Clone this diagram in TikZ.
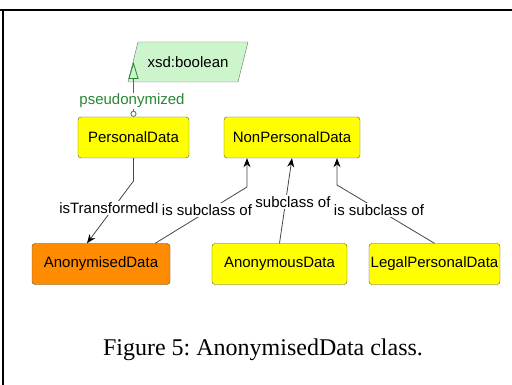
\documentclass[tikz,border=0pt]{standalone}
\usepackage{fontspec}
\setmainfont{Liberation Serif}
\setsansfont{Liberation Sans}
\usetikzlibrary{arrows.meta}
\definecolor{clsyellow}{RGB}{255,255,0}
\definecolor{clsorange}{RGB}{255,140,0}
\definecolor{clsborder}{RGB}{85,85,85}
\definecolor{dtgreen}{RGB}{204,245,204}
\definecolor{propgreen}{RGB}{40,135,50}
\definecolor{edgegray}{RGB}{70,70,70}
\begin{document}
\begin{tikzpicture}[x=1pt,y=-1pt,
    cls/.style={draw=clsborder, fill=clsyellow, rounded corners=3pt, minimum height=41pt,
      inner xsep=1pt, font=\sffamily\fontsize{15}{17}\selectfont},
    dtype/.style={minimum width=110pt, minimum height=40pt, inner sep=1pt,
      font=\sffamily\fontsize{15}{17}\selectfont},
    lbl/.style={fill=white, inner sep=1pt, font=\sffamily\fontsize{15}{17}\selectfont},
    rel/.style={draw=edgegray, line width=0.8pt, -{Stealth[length=9pt,width=7pt,black]}},
    dprop/.style={draw=propgreen, line width=0.8pt,
      {Circle[open,length=6pt,width=6pt]}-{Triangle[open,length=17pt,width=10pt]}}]
    \useasboundingbox (0,0) rectangle (512,385);
    \draw[line width=2pt] (0,10.5) -- (512,10.5);
    \draw[line width=2pt] (3.3,10.5) -- (3.3,385);
    \draw[draw=clsborder!80, fill=dtgreen] (128,82) -- (138,42) -- (248,42) -- (238,82) -- cycle;
    \node[dtype] (xsd) at (188,62) {xsd:boolean};
    \node[cls, minimum width=111pt] (pd) at (133.5,137.5) {PersonalData};
    \node[cls, minimum width=136pt] (npd) at (292,137.5) {NonPersonalData};
    \node[cls, fill=clsorange, minimum width=138pt] (and) at (101,264) {AnonymisedData};
    \node[cls, minimum width=135pt] (aus) at (279.5,264) {AnonymousData};
    \node[cls, minimum width=131pt] (lpd) at (434.5,264) {LegalPersonalData};
    \coordinate (b1) at (133.5,181);
    \coordinate (b2) at (247,187);
    \coordinate (b4) at (337,185);
    \draw[dprop] (pd.north) -- (pd.north |- xsd.west);
    \draw[rel] (pd.south) -- (b1) -- ([xshift=-14pt]and.north);
    \draw[rel] ([xshift=-15pt]and.north east) -- (b2) -- (b2 |- npd.south);
    \draw[rel] (aus.north) -- (npd.south);
    \draw[rel] (lpd.north) -- (b4) -- (b4 |- npd.south);
    \node[lbl, text=propgreen] (l0) at (132,101) {pseudonymized};
    \node[lbl] (l1) at (109,208) {isTransformedI};
    \node[lbl] (l3) at (293,202) {subclass of};
    \node[lbl] (l2) at (207,210) {is subclass of};
    \node[lbl] (l4) at (379,210) {is subclass of};
    \node[font=\fontsize{24}{28}\selectfont\frenchspacing] (cap) at (263,350) {Figure 5: AnonymisedData class.};
\end{tikzpicture}
\end{document}
